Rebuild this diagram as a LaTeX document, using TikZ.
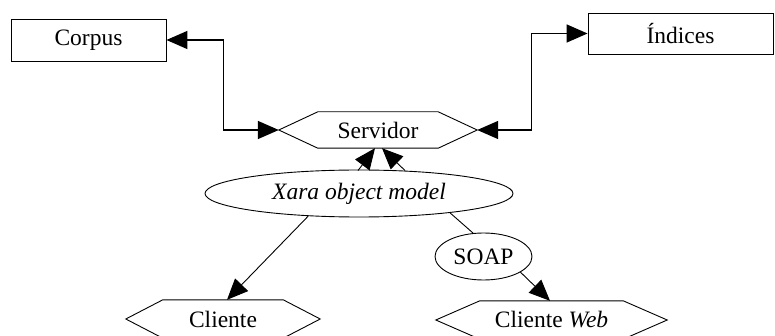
\documentclass[tikz,border=0pt]{standalone}
\usepackage{fontspec}
\setmainfont{Liberation Serif}
\usetikzlibrary{arrows.meta,shapes.geometric}

\tikzset{
  shapeline/.style={draw=black, line width=0.9pt, line join=miter},
  box/.style={shapeline, rectangle, inner sep=0pt},
  oval/.style={shapeline, ellipse, inner sep=0pt},
  % hexagon: a flat top edge of width #1, height #2, tips reaching #3 beyond the sides
  hexbox/.style n args={3}{rectangle, draw=none, inner sep=0pt,
    minimum width=#1, minimum height=#2,
    append after command={\pgfextra{\let\hexnode\tikzlastnode
      \draw[shapeline] (\hexnode.north west) -- ([xshift=-#3]\hexnode.west)
        -- (\hexnode.south west) -- (\hexnode.south east)
        -- ([xshift=#3]\hexnode.east) -- (\hexnode.north east) -- cycle;}}},
  tip/.style={-{Triangle[length=21pt,width=18pt]}},
  bitip/.style={{Triangle[length=21pt,width=18pt]}-{Triangle[length=21pt,width=18pt]}},
  wire/.style={draw=black, line width=1.5pt},
  thinwire/.style={draw=black, line width=0.9pt},
}

\begin{document}
\begin{tikzpicture}[x=1pt, y=-1pt, font=\fontsize{23.5}{28}\selectfont]
  \useasboundingbox (0,0) rectangle (775,336);
  \fill[white] (0,0) rectangle (775,336);

  % stores
  \node[box, minimum width=155, minimum height=42] (corpus) at (88.5,40) {Corpus};
  \node[box, minimum width=185, minimum height=41] (indices) at (680.5,33.5) {Índices};

  % server, object model and clients
  \node[hexbox={120}{36}{39pt}] (srv) at (378,130) {Servidor};
  \node[oval, minimum width=308, minimum height=47] (xara) at (359,193.5) {\itshape Xara object model};
  \node[oval, minimum width=97, minimum height=47] (soap) at (483.5,256.5) {SOAP};
  \node[hexbox={120}{38}{37pt}] (cli) at (223,319) {Cliente};
  \node[hexbox={143}{38}{44pt}] (web) at (551.5,320) {Cliente \textit{Web}};

  % server <-> stores
  \draw[wire, bitip] (corpus.east) -- ++(57,0) |- ([xshift=-39pt]srv.west);
  \draw[wire, bitip] (indices.west) -- ++(-56,0) |- ([xshift=39pt]srv.east);

  % object model -> server
  \draw[thinwire, tip] ([xshift=-1pt,yshift=-1pt]xara.north) -- ([xshift=-3pt]srv.south);
  \draw[thinwire, tip] ([xshift=46pt,yshift=-1pt]xara.north) -- ([xshift=4pt]srv.south);

  % object model -> clients
  \draw[thinwire, tip] (xara.204.5) -- ([xshift=4pt]cli.north);
  \draw[thinwire] (xara.348.6) -- (soap.114.6);
  \draw[thinwire, tip] (soap.337) -- ([xshift=-1.5pt]web.north);
\end{tikzpicture}
\end{document}
